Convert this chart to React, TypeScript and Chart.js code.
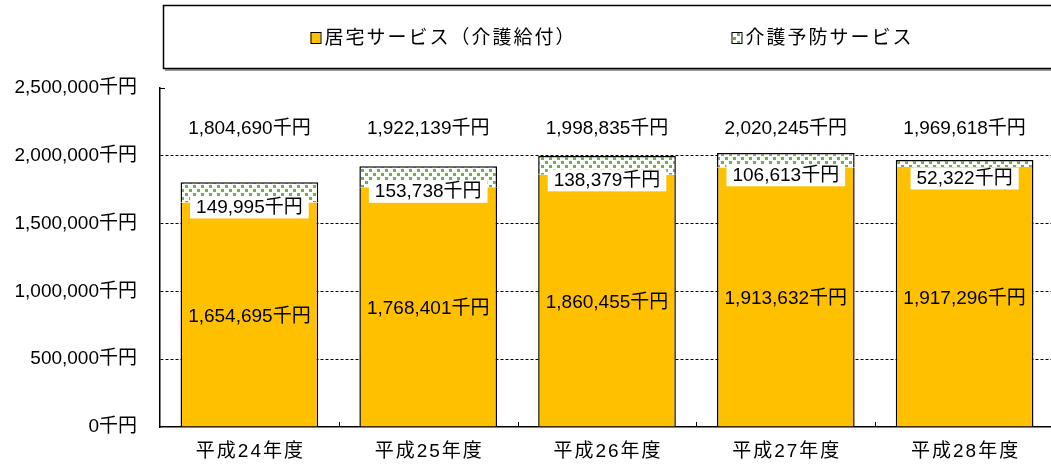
import React, { useEffect, useRef } from 'react';
import { Chart, registerables } from 'chart.js';

Chart.register(...registerables);

const categories = ['平成24年度', '平成25年度', '平成26年度', '平成27年度', '平成28年度'];
const kyotakuValues = [1654695, 1768401, 1860455, 1913632, 1917296];
const yobouValues = [149995, 153738, 138379, 106613, 52322];
const totalValues = [1804690, 1922139, 1998835, 2020245, 1969618];
const seriesNames = ['居宅サービス（介護給付）', '介護予防サービス'];
const yTickValues = [0, 500000, 1000000, 1500000, 2000000, 2500000];
const unit = '千円';

const FONT = '"Liberation Sans", Arial, "Noto Sans CJK JP", sans-serif';
const YELLOW = '#FFC000';
const GREEN = '#72B04A';

const fmt = (v: number) => v.toLocaleString('en-US') + unit;

function makePattern(ctx: CanvasRenderingContext2D): CanvasPattern | string {
  const c = document.createElement('canvas');
  c.width = 8;
  c.height = 8;
  const g = c.getContext('2d');
  if (!g) return GREEN;
  g.fillStyle = '#ffffff';
  g.fillRect(0, 0, 8, 8);
  g.fillStyle = GREEN;
  g.fillRect(1, 1, 3, 3);
  g.fillRect(5, 5, 3, 3);
  return ctx.createPattern(c, 'repeat') || GREEN;
}

export default function App() {
  const ref = useRef<HTMLCanvasElement | null>(null);

  useEffect(() => {
    document.body.style.margin = '0';
    document.body.style.overflow = 'hidden';
    const canvas = ref.current;
    if (!canvas) return;
    const ctx0 = canvas.getContext('2d') as CanvasRenderingContext2D;
    const pattern = makePattern(ctx0);

    const legendPlugin = {
      id: 'boxLegend',
      afterDraw(chart: any) {
        const ctx = chart.ctx as CanvasRenderingContext2D;
        ctx.save();
        ctx.fillStyle = '#9a9a9a';
        ctx.fillRect(165, 69, chart.width, 2);
        ctx.strokeStyle = '#000';
        ctx.lineWidth = 1.5;
        ctx.strokeRect(163.5, 5.5, chart.width, 63);
        ctx.font = `19px ${FONT}`;
        (ctx as any).letterSpacing = '2px';
        ctx.textBaseline = 'middle';
        ctx.textAlign = 'left';
        const fills = [YELLOW, pattern];
        const boxW = 10;
        const gap = 4;
        const itemGap = 155;
        const widths = seriesNames.map((n) => boxW + gap + ctx.measureText(n).width);
        const total = widths.reduce((a, b) => a + b, 0) + itemGap * (seriesNames.length - 1);
        let x = 612 - total / 2;
        const cy = 38;
        seriesNames.forEach((name, i) => {
          ctx.fillStyle = fills[i] as any;
          ctx.fillRect(x, cy - 6, boxW, 11);
          ctx.strokeStyle = '#000';
          ctx.lineWidth = 1;
          ctx.strokeRect(x + 0.5, cy - 5.5, boxW, 11);
          ctx.fillStyle = '#000';
          ctx.fillText(name, x + boxW + gap, cy + 1);
          x += widths[i] + itemGap;
        });
        ctx.restore();
      },
    };

    const labelPlugin = {
      id: 'valueLabels',
      afterDatasetsDraw(chart: any) {
        const ctx = chart.ctx as CanvasRenderingContext2D;
        const { chartArea, scales } = chart;
        const xs = scales.x;
        const ys = scales.y;
        ctx.save();
        ctx.strokeStyle = '#000';
        ctx.lineWidth = 1;
        for (let i = 0; i < categories.length - 1; i++) {
          const bx = Math.round((xs.getPixelForValue(i) + xs.getPixelForValue(i + 1)) / 2) + 0.5;
          ctx.beginPath();
          ctx.moveTo(bx, chartArea.bottom);
          ctx.lineTo(bx, chartArea.bottom - 5);
          ctx.stroke();
        }
        const topY = Math.round(ys.getPixelForValue(yTickValues[yTickValues.length - 1])) + 0.5;
        ctx.beginPath();
        ctx.moveTo(chartArea.left, topY);
        ctx.lineTo(chartArea.left + 5, topY);
        ctx.stroke();

        ctx.font = `19px ${FONT}`;
        ctx.textAlign = 'center';
        ctx.textBaseline = 'middle';
        categories.forEach((cat, i) => {
          const cx = xs.getPixelForValue(i);
          const base = ys.getPixelForValue(0);
          const yTop = ys.getPixelForValue(kyotakuValues[i]);
          const gTop = ys.getPixelForValue(kyotakuValues[i] + yobouValues[i]);
          ctx.fillStyle = '#000';
          ctx.fillText(fmt(kyotakuValues[i]), cx, (base + yTop) / 2 + 2);
          const gy = (yTop + gTop) / 2 + 15;
          const t = fmt(yobouValues[i]);
          const w = ctx.measureText(t).width;
          ctx.fillStyle = '#fff';
          ctx.fillRect(cx - w / 2 - 6, gy - 11, w + 12, 22);
          ctx.fillStyle = '#000';
          ctx.fillText(t, cx, gy);
          ctx.fillText(fmt(totalValues[i]), cx, chartArea.top + 41);
          // category label
          (ctx as any).letterSpacing = '2px';
          ctx.fillText(cat, cx + 1, chartArea.bottom + 25);
          (ctx as any).letterSpacing = '0px';
        });
        ctx.restore();
      },
    };

    const chart = new Chart(canvas, {
      type: 'bar',
      data: {
        labels: categories,
        datasets: [
          {
            label: seriesNames[0],
            data: kyotakuValues,
            backgroundColor: YELLOW,
            borderColor: '#000',
            borderWidth: { top: 0, left: 1.5, right: 1.5, bottom: 0 } as any,
            borderSkipped: false,
            categoryPercentage: 1,
            barPercentage: 0.77,
          },
          {
            label: seriesNames[1],
            data: yobouValues,
            backgroundColor: pattern as any,
            borderColor: '#000',
            borderWidth: { top: 1.5, left: 1.5, right: 1.5, bottom: 0 } as any,
            borderSkipped: false,
            categoryPercentage: 1,
            barPercentage: 0.77,
          },
        ],
      },
      options: {
        responsive: false,
        animation: false,
        layout: { padding: { top: 88, left: 0, right: 0, bottom: 0 } },
        plugins: {
          legend: { display: false },
          tooltip: { enabled: false },
        },
        scales: {
          x: {
            stacked: true,
            offset: true,
            grid: { display: false, drawTicks: false },
            border: { display: true, color: '#000', width: 1.5 },
            ticks: { display: false },
            afterFit(scale: any) {
              scale.height = 38;
            },
          },
          y: {
            stacked: true,
            min: 0,
            max: 2500000,
            afterBuildTicks(scale: any) {
              scale.ticks = yTickValues.map((v) => ({ value: v }));
            },
            afterFit(scale: any) {
              scale.width = 160;
            },
            grid: {
              drawTicks: false,
              color: (c: any) =>
                c.tick && (c.tick.value === 0 || c.tick.value === 2500000) ? 'rgba(0,0,0,0)' : '#000',
              lineWidth: 1,
            },
            border: { display: true, color: '#000', width: 1.5, dash: [3, 2] },
            ticks: {
              color: '#000',
              font: { size: 19, family: FONT },
              padding: 23,
              callback: (v: any) => Number(v).toLocaleString('en-US') + unit,
            },
          },
        },
      },
      plugins: [legendPlugin, labelPlugin],
    });

    return () => chart.destroy();
  }, []);

  return (
    <div style={{ width: 1051, height: 465, overflow: 'hidden', position: 'relative', background: '#fff' }}>
      <canvas ref={ref} width={1054} height={465} style={{ display: 'block' }} />
    </div>
  );
}
